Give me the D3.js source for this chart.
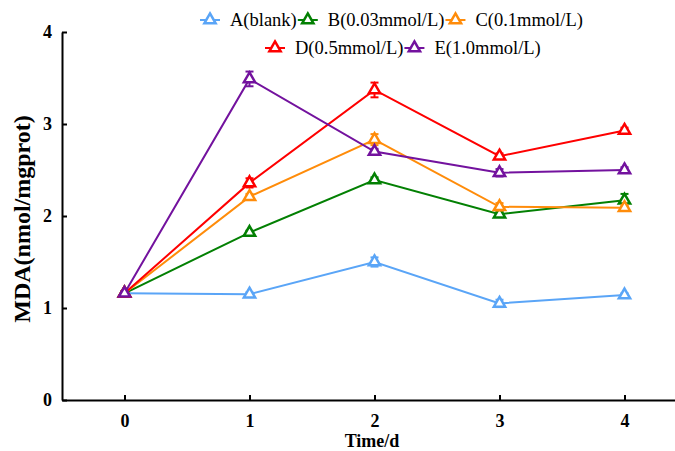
<!DOCTYPE html>
<html lang="en">
<head>
<meta charset="utf-8">
<title>MDA over time</title>
<style>
body{
  margin: 0;
  background: #fff;
}
text{
  font-family: "Liberation Serif", "Times New Roman", serif;
}
.axis text{
  font-size: 18px;
  font-weight: bold;
  fill: #000;
}
.axis path, .axis line{
  stroke: #000;
  stroke-width: 2;
}
</style>
</head>
<body>
<div id="chart"></div>
<script src="https://d3js.org/d3.v7.min.js"></script>
<script>

const days = [0, 1, 2, 3, 4];
const seriesNames = ['A(blank)', 'B(0.03mmol/L)', 'C(0.1mmol/L)', 'D(0.5mmol/L)', 'E(1.0mmol/L)'];
const seriesColors = ['#5aa5f7', '#038003', '#ff8c0a', '#fe0000', '#73129e'];
const valuesA = [1.16, 1.15, 1.50, 1.05, 1.14];
const valuesB = [1.16, 1.82, 2.39, 2.02, 2.17];
const valuesC = [1.16, 2.21, 2.83, 2.10, 2.09];
const valuesD = [1.16, 2.36, 3.37, 2.65, 2.93];
const valuesE = [1.16, 3.49, 2.70, 2.47, 2.50];
const errA = [0.02, 0.02, 0.05, 0.04, 0.02];
const errB = [0.02, 0.02, 0.03, 0.03, 0.07];
const errC = [0.02, 0.03, 0.06, 0.04, 0.03];
const errD = [0.02, 0.05, 0.08, 0.03, 0.03];
const errE = [0.02, 0.08, 0.03, 0.04, 0.03];
const yTicks = [0, 1, 2, 3, 4];

const width = 675;
const height = 451;
const margin = { top: 32, right: -12, bottom: 51, left: 62 };

const series = seriesNames.map((name, i) => ({
  name: name,
  color: seriesColors[i],
  values: [valuesA, valuesB, valuesC, valuesD, valuesE][i],
  err: [errA, errB, errC, errD, errE][i]
}));

const svg = d3.select('#chart')
  .append('svg')
  .attr('width', width)
  .attr('height', height);

const x = d3.scaleLinear()
  .domain([-0.5, 4.5])
  .range([margin.left, width - margin.right]);

const y = d3.scaleLinear()
  .domain([0, 4])
  .range([height - margin.bottom, margin.top]);

// axes
svg.append('g')
  .attr('class', 'axis')
  .attr('transform', 'translate(0,' + (height - margin.bottom) + ')')
  .call(d3.axisBottom(x).tickValues(days).tickFormat(d3.format('d'))
    .tickSizeInner(-5).tickSizeOuter(0).tickPadding(14))
  .attr('font-family', null)
  .call(g => g.selectAll('line').attr('stroke-width', 1.5));

svg.append('g')
  .attr('class', 'axis')
  .attr('transform', 'translate(' + margin.left + ',0)')
  .call(d3.axisLeft(y).tickValues(yTicks).tickFormat(d3.format('d'))
    .tickSizeInner(-5).tickSizeOuter(0).tickPadding(10))
  .attr('font-family', null)
  .call(g => g.selectAll('line').attr('stroke-width', 1.5));

// axis titles
svg.append('text')
  .attr('x', 372)
  .attr('y', 447)
  .attr('text-anchor', 'middle')
  .style('font-size', '18px')
  .style('font-weight', 'bold')
  .text('Time/d');

svg.append('text')
  .attr('transform', 'translate(30,219) rotate(-90)')
  .attr('text-anchor', 'middle')
  .style('font-size', '24px')
  .style('font-weight', 'bold')
  .text('MDA(nmol/mgprot)');

const line = d3.line()
  .x((d, i) => x(days[i]))
  .y(d => y(d));

const tri = d3.symbol().type(d3.symbolTriangle).size(55);

series.forEach(s => {
  const g = svg.append('g');
  g.append('path')
    .datum(s.values)
    .attr('fill', 'none')
    .attr('stroke', s.color)
    .attr('stroke-width', 2)
    .attr('d', line);

  // error bars
  const eb = g.selectAll('.eb')
    .data(s.values)
    .join('g');
  eb.append('line')
    .attr('x1', (d, i) => x(days[i]))
    .attr('x2', (d, i) => x(days[i]))
    .attr('y1', (d, i) => y(d - s.err[i]))
    .attr('y2', (d, i) => y(d + s.err[i]))
    .attr('stroke', s.color)
    .attr('stroke-width', 2);
  [-1, 1].forEach(sign => {
    eb.append('line')
      .attr('x1', (d, i) => x(days[i]) - 4)
      .attr('x2', (d, i) => x(days[i]) + 4)
      .attr('y1', (d, i) => y(d + sign * s.err[i]))
      .attr('y2', (d, i) => y(d + sign * s.err[i]))
      .attr('stroke', s.color)
      .attr('stroke-width', 2);
  });

  g.selectAll('.mk')
    .data(s.values)
    .join('path')
    .attr('d', tri)
    .attr('transform', (d, i) => 'translate(' + x(days[i]) + ',' + y(d) + ')')
    .attr('fill', '#fff')
    .attr('stroke', s.color)
    .attr('stroke-width', 2.5);
});

// legend
const legendRows = [[0, 1, 2], [3, 4]];
const legendStart = [200, 265];
const legendY = [20, 48];
legendRows.forEach((row, r) => {
  let cx = legendStart[r];
  row.forEach(k => {
    const s = series[k];
    const lg = svg.append('g').attr('transform', 'translate(' + cx + ',' + legendY[r] + ')');
    lg.append('line')
      .attr('x1', 0).attr('x2', 20)
      .attr('stroke', s.color).attr('stroke-width', 2);
    lg.append('path')
      .attr('d', tri)
      .attr('transform', 'translate(10,0)')
      .attr('fill', '#fff')
      .attr('stroke', s.color)
      .attr('stroke-width', 2.5);
    const t = lg.append('text')
      .attr('x', 30)
      .attr('y', 6)
      .style('font-size', '18.5px')
      .text(s.name);
    cx += 30 + t.node().getComputedTextLength() + 1;
  });
});

</script>
</body>
</html>
